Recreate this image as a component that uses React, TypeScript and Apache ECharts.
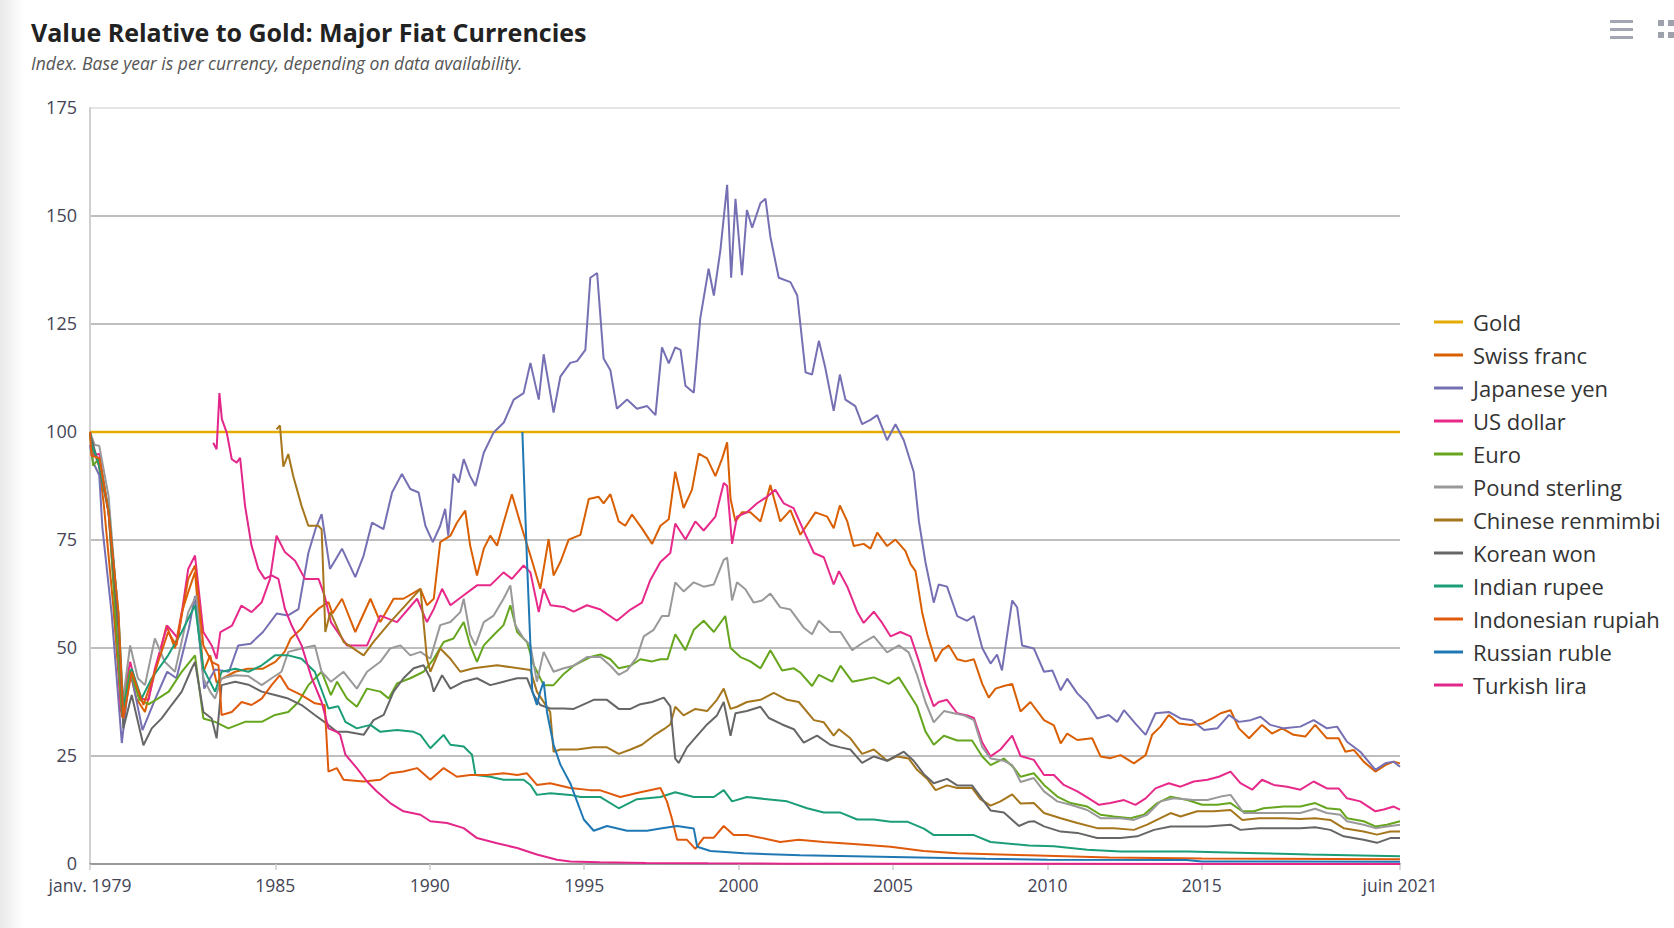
import React, { useEffect, useRef } from 'react';
import * as echarts from 'echarts';

const TITLE = 'Value Relative to Gold: Major Fiat Currencies';
const SUBTITLE = 'Index. Base year is per currency, depending on data availability.';

const X_MIN = 1979;
const X_MAX = 2021.4167;
const xLabelValues = [1979, 1985, 1990, 1995, 2000, 2005, 2010, 2015, 2021.4167];
const Y_MIN = 0;
const Y_MAX = 175;
const Y_STEP = 25;

const seriesNames = [
  'Gold', 'Swiss franc', 'Japanese yen', 'US dollar', 'Euro', 'Pound sterling',
  'Chinese renmimbi', 'Korean won', 'Indian rupee', 'Indonesian rupiah', 'Russian ruble', 'Turkish lira',
];
const seriesColors = [
  '#e6ab02', '#d95f02', '#7570b3', '#e7298a', '#66a61e', '#999999',
  '#a6761d', '#666666', '#1b9e77', '#e05a0c', '#1f78b4', '#e3268a',
];

type P = [number, number];

const gold: P[] = [[1979.0, 100], [2021.4167, 100]];

const swissFranc: P[] = [
  [1979.0, 100], [1979.1, 96], [1979.3, 92], [1979.45, 83], [1979.75, 60], [1980.03, 34], [1980.3, 44.5], [1980.5, 38.3],
  [1980.78, 35.2], [1981.16, 46], [1981.48, 55.2], [1981.75, 49.9], [1981.97, 58.3], [1982.18, 62.9], [1982.4, 67.6],
  [1982.67, 44.5], [1982.89, 48.3], [1983.1, 42], [1983.3, 43], [1983.7, 44.5], [1984.1, 45.2], [1984.6, 45.2], [1985.0, 46.8],
  [1985.3, 49.1], [1985.5, 52.2], [1985.85, 54.5], [1986.07, 56.8], [1986.4, 59.1], [1986.72, 60.6], [1986.85, 58],
  [1987.16, 61.4], [1987.59, 53.7], [1988.08, 61.4], [1988.4, 56], [1988.83, 61.4], [1989.15, 61.4], [1989.7, 63.7],
  [1989.91, 59.9], [1990.13, 61.4], [1990.34, 74.5], [1990.67, 76], [1990.88, 79], [1991.15, 81.8], [1991.31, 73.7],
  [1991.53, 66.8], [1991.75, 73], [1991.96, 76], [1992.18, 73.7], [1992.39, 79], [1992.66, 85.6], [1992.93, 79],
  [1993.26, 71.4], [1993.58, 63.7], [1993.85, 75.2], [1994.01, 66.8], [1994.23, 69.9], [1994.5, 75.1], [1994.88, 76.2],
  [1995.15, 84.5], [1995.47, 85], [1995.63, 83.5], [1995.85, 85.6], [1996.12, 79.3], [1996.33, 78.3], [1996.55, 80.9],
  [1996.87, 77.7], [1997.2, 74.1], [1997.47, 78.3], [1997.74, 79.8], [1997.95, 90.8], [1998.22, 82.4], [1998.49, 86.6],
  [1998.71, 95], [1998.98, 93.9], [1999.25, 89.8], [1999.47, 93.9], [1999.63, 97.6], [1999.74, 84.5], [1999.9, 79.3],
  [2000.11, 81.4], [2000.38, 81.4], [2000.71, 79.3], [2001.03, 87.7], [2001.35, 79.3], [2001.68, 81.9], [2002.0, 76.2],
  [2002.49, 81.4], [2002.87, 80.4], [2003.08, 77.7], [2003.28, 83], [2003.52, 79.3], [2003.73, 73.6], [2004.05, 74.1],
  [2004.27, 73], [2004.49, 76.7], [2004.81, 73.6], [2005.08, 75.1], [2005.4, 72.5], [2005.57, 69.4], [2005.73, 67.8],
  [2005.94, 58.4], [2006.11, 53.2], [2006.38, 46.9], [2006.59, 49.5], [2006.81, 50.6], [2007.08, 47.4], [2007.35, 46.9],
  [2007.62, 47.4], [2007.89, 41.7], [2008.1, 38.5], [2008.32, 40.6], [2008.59, 41.2], [2008.86, 41.7], [2009.13, 35.3],
  [2009.45, 37.5], [2009.89, 33.3], [2010.21, 32.1], [2010.43, 27.9], [2010.64, 30.2], [2010.97, 28.7], [2011.45, 29.1],
  [2011.72, 24.9], [2012.04, 24.5], [2012.37, 25.2], [2012.8, 23.3], [2013.18, 25.2], [2013.39, 29.9], [2013.66, 31.8],
  [2013.93, 34.5], [2014.26, 32.5], [2014.64, 32.2], [2015.01, 32.5], [2015.34, 33.7], [2015.61, 34.9], [2015.93, 35.6],
  [2016.2, 31.4], [2016.53, 29.1], [2016.95, 32.2], [2017.27, 30.2], [2017.6, 31.4], [2017.97, 29.9], [2018.35, 29.5],
  [2018.67, 32.2], [2019.05, 29.1], [2019.43, 29.1], [2019.65, 26], [2019.92, 26.4], [2020.24, 23.7], [2020.62, 21.4],
  [2020.94, 22.9], [2021.21, 23.7], [2021.4167, 23.3],
];

const japaneseYen: P[] = [
  [1979.0, 97], [1979.1, 93], [1979.3, 90], [1979.4, 78], [1979.7, 58], [1980.03, 28], [1980.3, 45], [1980.5, 38],
  [1980.7, 31], [1981.1, 38], [1981.5, 44.5], [1981.8, 43], [1982.2, 54.5], [1982.4, 62], [1982.7, 40.6], [1983.05, 45],
  [1983.5, 44.5], [1983.8, 50.6], [1984.2, 51], [1984.6, 53.7], [1985.05, 58], [1985.4, 57.5], [1985.75, 59], [1986.07, 72],
  [1986.3, 77.5], [1986.5, 81], [1986.77, 68.3], [1987.16, 73], [1987.59, 66.4], [1987.86, 71.4], [1988.13, 79],
  [1988.5, 77.5], [1988.78, 86], [1989.1, 90.3], [1989.37, 86.8], [1989.64, 86], [1989.86, 78.3], [1990.1, 74.5],
  [1990.34, 78.3], [1990.5, 82.2], [1990.6, 76], [1990.77, 90.3], [1990.94, 88.3], [1991.1, 93.7], [1991.3, 89.9],
  [1991.48, 87.5], [1991.75, 95.2], [1992.07, 99.9], [1992.4, 102.2], [1992.72, 107.5], [1993.04, 109], [1993.26, 116],
  [1993.53, 107.5], [1993.69, 118], [1994.01, 104.5], [1994.23, 112.8], [1994.55, 116], [1994.77, 116.4], [1995.04, 119],
  [1995.2, 135.7], [1995.42, 136.8], [1995.63, 117], [1995.85, 114.3], [1996.06, 105.4], [1996.39, 107.5], [1996.71, 105.4],
  [1997.04, 106], [1997.31, 103.9], [1997.52, 119.6], [1997.74, 115.9], [1997.95, 119.6], [1998.12, 119], [1998.28, 110.7],
  [1998.55, 109.1], [1998.76, 126.3], [1999.03, 137.8], [1999.2, 131.6], [1999.41, 142], [1999.63, 157.2], [1999.76, 135.7],
  [1999.9, 154], [2000.11, 136.3], [2000.27, 151.4], [2000.44, 147.3], [2000.71, 153], [2000.87, 154], [2001.03, 145.2],
  [2001.3, 135.7], [2001.68, 134.7], [2001.9, 131.6], [2002.17, 113.8], [2002.38, 113.3], [2002.6, 121.1], [2002.81, 114.8],
  [2003.08, 104.9], [2003.28, 113.3], [2003.46, 107.5], [2003.78, 106], [2004.0, 101.8], [2004.27, 102.8], [2004.49, 103.9],
  [2004.81, 98.1], [2005.08, 101.8], [2005.35, 98.1], [2005.67, 90.8], [2005.84, 79.3], [2006.05, 69.9], [2006.32, 60.5],
  [2006.48, 64.7], [2006.75, 64.2], [2007.08, 57.4], [2007.4, 56.3], [2007.62, 57.4], [2007.89, 50], [2008.16, 46.4],
  [2008.37, 48.5], [2008.53, 44.8], [2008.7, 53.2], [2008.86, 61], [2009.02, 59.4], [2009.18, 50.6], [2009.56, 49.9],
  [2009.89, 44.5], [2010.16, 44.8], [2010.43, 40.2], [2010.64, 42.9], [2010.97, 39.5], [2011.29, 37.2], [2011.61, 33.7],
  [2011.99, 34.5], [2012.26, 32.9], [2012.48, 35.6], [2012.85, 32.5], [2013.18, 29.9], [2013.5, 34.9], [2013.93, 35.2],
  [2014.31, 33.7], [2014.69, 33.3], [2015.07, 31], [2015.5, 31.4], [2015.88, 34.5], [2016.2, 32.9], [2016.58, 33.3],
  [2016.9, 34.1], [2017.22, 32.2], [2017.65, 31.4], [2018.19, 31.8], [2018.62, 33.3], [2019.05, 31.4], [2019.38, 31.8],
  [2019.7, 28.3], [2020.13, 26], [2020.62, 21.8], [2020.94, 23.3], [2021.21, 23.7], [2021.4167, 22.5],
];

const usDollar: P[] = [
  [1979.0, 100], [1979.1, 94.5], [1979.3, 95], [1979.6, 81.4], [1979.8, 62], [1980.0, 35.2], [1980.3, 46.8], [1980.6, 38.3],
  [1980.9, 38], [1981.1, 45.2], [1981.5, 55.2], [1981.85, 52.2], [1982.18, 68.3], [1982.4, 71.4], [1982.67, 53.7],
  [1982.94, 50.6], [1983.1, 47.5], [1983.22, 53.7], [1983.6, 55.2], [1983.9, 59.8], [1984.23, 58.3], [1984.56, 60.6],
  [1984.83, 66], [1985.04, 76], [1985.31, 72.2], [1985.64, 70.2], [1985.96, 66], [1986.4, 66], [1986.6, 62], [1986.8, 56],
  [1987.32, 50.6], [1987.97, 50.6], [1988.4, 57.5], [1988.94, 56], [1989.59, 61.4], [1989.91, 56], [1990.13, 59],
  [1990.4, 63.7], [1990.67, 59.9], [1991.1, 62.2], [1991.53, 64.5], [1991.96, 64.5], [1992.39, 67.5], [1992.66, 66],
  [1993.04, 69.1], [1993.26, 67.5], [1993.53, 58.3], [1993.69, 63.7], [1993.91, 59.9], [1994.34, 59.5], [1994.66, 58.4],
  [1995.09, 59.9], [1995.53, 58.9], [1996.06, 56.3], [1996.5, 58.9], [1996.87, 60.5], [1997.14, 65.7], [1997.47, 69.9],
  [1997.79, 72], [1997.95, 78.8], [1998.28, 75.1], [1998.6, 79.3], [1998.87, 77.2], [1999.25, 80.4], [1999.52, 88.2],
  [1999.63, 87.5], [1999.79, 74.1], [1999.95, 80.4], [2000.27, 81.4], [2000.6, 83.5], [2000.92, 85], [2001.19, 86.6],
  [2001.46, 83.5], [2001.78, 82.4], [2002.17, 76.2], [2002.44, 72], [2002.76, 71], [2003.08, 64.7], [2003.25, 67.8],
  [2003.52, 64.2], [2003.84, 58.4], [2004.05, 55.8], [2004.38, 58.4], [2004.65, 55.8], [2004.92, 52.7], [2005.24, 53.7],
  [2005.57, 52.7], [2005.84, 46.9], [2006.05, 41.7], [2006.32, 36.5], [2006.48, 37.5], [2006.75, 38], [2007.08, 34.9],
  [2007.4, 34.4], [2007.62, 33.8], [2007.89, 28.1], [2008.16, 24.9], [2008.48, 26.5], [2008.86, 29.7], [2009.13, 25],
  [2009.56, 24.1], [2009.89, 20.6], [2010.21, 20.6], [2010.53, 18.3], [2010.97, 16.8], [2011.34, 15.2], [2011.67, 13.7],
  [2012.04, 14.1], [2012.48, 14.8], [2012.85, 13.7], [2013.18, 15.2], [2013.5, 17.5], [2013.93, 18.7], [2014.31, 17.9],
  [2014.74, 19.1], [2015.18, 19.5], [2015.55, 20.2], [2015.93, 21.4], [2016.25, 18.7], [2016.63, 17.2], [2016.95, 19.5],
  [2017.33, 18.3], [2017.76, 17.9], [2018.19, 17.2], [2018.62, 19.1], [2019.05, 17.5], [2019.43, 17.5], [2019.7, 15.2],
  [2020.13, 14.5], [2020.62, 12.2], [2020.89, 12.6], [2021.21, 13.3], [2021.4167, 12.6],
];

const euro: P[] = [
  [1979.0, 100], [1979.1, 92.2], [1979.3, 94], [1979.6, 82], [1979.8, 60], [1980.03, 35], [1980.3, 45], [1980.6, 38],
  [1980.9, 37], [1981.2, 38.3], [1981.55, 39.9], [1981.97, 44.5], [1982.4, 48.3], [1982.67, 33.7], [1983.05, 32.9],
  [1983.48, 31.4], [1984.02, 32.9], [1984.56, 32.9], [1984.99, 34.5], [1985.42, 35.2], [1985.75, 37.5], [1986.07, 41.4],
  [1986.5, 44.5], [1986.8, 39.1], [1987.0, 42.2], [1987.32, 38.3], [1987.64, 36.4], [1987.97, 40.6], [1988.4, 39.9],
  [1988.67, 38.3], [1988.94, 41.8], [1989.37, 43], [1989.8, 44.5], [1990.13, 47.5], [1990.45, 51.4], [1990.77, 52.2],
  [1991.1, 56], [1991.31, 50.6], [1991.53, 46.8], [1991.75, 50.6], [1992.07, 53], [1992.39, 55.3], [1992.61, 59.9],
  [1992.83, 53.7], [1993.15, 51.4], [1993.37, 46], [1993.69, 41.4], [1994.01, 41.4], [1994.34, 44], [1994.66, 45.9],
  [1995.2, 47.9], [1995.53, 48.5], [1995.85, 47.4], [1996.12, 45.3], [1996.5, 45.9], [1996.82, 47.4], [1997.2, 46.9],
  [1997.47, 47.4], [1997.7, 47.4], [1997.95, 53.2], [1998.28, 49.5], [1998.55, 54.2], [1998.87, 56.3], [1999.2, 53.7],
  [1999.57, 57.4], [1999.74, 50], [2000.06, 47.9], [2000.38, 46.9], [2000.71, 45.3], [2001.03, 49.5], [2001.41, 44.8],
  [2001.79, 45.3], [2002.0, 44.3], [2002.38, 41.2], [2002.6, 43.8], [2003.03, 42.2], [2003.3, 45.9], [2003.68, 42.2],
  [2004.05, 42.7], [2004.38, 43.2], [2004.86, 41.7], [2005.19, 43.2], [2005.51, 39.6], [2005.78, 36.5], [2006.05, 30.7],
  [2006.32, 27.6], [2006.65, 29.7], [2007.08, 28.6], [2007.56, 28.6], [2007.89, 24.9], [2008.16, 22.9], [2008.59, 24.4],
  [2008.91, 22.3], [2009.13, 20.2], [2009.56, 21], [2009.89, 18.3], [2010.32, 15.6], [2010.75, 14.1], [2011.29, 13.3],
  [2011.72, 11.4], [2012.15, 11], [2012.69, 10.6], [2013.12, 11.4], [2013.56, 14.1], [2013.99, 15.6], [2014.53, 14.8],
  [2015.01, 13.7], [2015.5, 13.7], [2015.93, 14.1], [2016.31, 12.2], [2016.69, 12.2], [2017.0, 12.9], [2017.65, 13.3],
  [2018.19, 13.3], [2018.67, 14.1], [2019.05, 12.9], [2019.48, 12.6], [2019.7, 10.6], [2020.24, 9.9], [2020.62, 8.7],
  [2020.99, 9.1], [2021.4167, 9.9],
];

const poundSterling: P[] = [
  [1979.0, 100], [1979.15, 97], [1979.3, 96.8], [1979.6, 85.2], [1979.9, 58.3], [1980.05, 37], [1980.3, 50.6],
  [1980.55, 43], [1980.78, 41.4], [1981.1, 52.2], [1981.42, 46.8], [1981.75, 44.5], [1982.18, 58.3], [1982.45, 62.2],
  [1982.67, 43], [1982.89, 39.9], [1983.05, 38.3], [1983.26, 43], [1983.7, 43.7], [1984.13, 43.5], [1984.56, 41.4],
  [1984.88, 43], [1985.2, 44.5], [1985.42, 49.1], [1985.85, 49.9], [1986.28, 50.6], [1986.5, 44.5], [1986.8, 42.2],
  [1987.21, 44.5], [1987.64, 40.6], [1987.97, 44.5], [1988.4, 46.8], [1988.72, 49.9], [1989.05, 50.6], [1989.37, 48.3],
  [1989.7, 49.1], [1990.02, 47.5], [1990.34, 55.3], [1990.67, 56], [1990.99, 58.3], [1991.1, 61.4], [1991.31, 53],
  [1991.48, 50.6], [1991.75, 56], [1992.07, 57.5], [1992.39, 61.4], [1992.61, 64.5], [1992.77, 55.3], [1993.04, 52.2],
  [1993.26, 50.6], [1993.47, 42.2], [1993.69, 49.1], [1994.01, 44.5], [1994.34, 45.3], [1994.66, 45.9], [1995.09, 47.9],
  [1995.53, 47.9], [1995.85, 45.9], [1996.12, 43.8], [1996.39, 44.8], [1996.71, 47.9], [1996.93, 52.7], [1997.25, 54.2],
  [1997.52, 57.4], [1997.74, 57.4], [1997.95, 65.2], [1998.22, 63.1], [1998.55, 65.2], [1998.87, 64.2], [1999.2, 64.7],
  [1999.52, 70.4], [1999.63, 70.9], [1999.79, 61], [1999.95, 65.2], [2000.22, 63.6], [2000.49, 60.5], [2000.76, 61],
  [2001.03, 62.6], [2001.35, 59.4], [2001.68, 58.9], [2002.11, 54.7], [2002.38, 53.2], [2002.6, 56.3], [2002.97, 53.7],
  [2003.3, 53.7], [2003.68, 49.5], [2004.0, 51.1], [2004.38, 52.7], [2004.81, 49], [2005.19, 50.6], [2005.51, 49],
  [2005.78, 43.8], [2006.05, 37.5], [2006.32, 32.8], [2006.65, 35.4], [2006.97, 34.9], [2007.3, 34.4], [2007.62, 33.3],
  [2007.89, 27.1], [2008.16, 24.4], [2008.59, 23.9], [2008.86, 22.9], [2009.13, 19], [2009.56, 19.9], [2009.89, 16.8],
  [2010.32, 14.5], [2010.75, 13.7], [2011.29, 12.5], [2011.72, 10.6], [2012.37, 10.6], [2012.8, 10.2], [2013.23, 11.4],
  [2013.66, 14.5], [2014.09, 15.2], [2014.74, 14.8], [2015.18, 14.8], [2015.61, 15.6], [2015.93, 16], [2016.36, 11.8],
  [2016.85, 11.8], [2017.65, 11.8], [2018.19, 11.8], [2018.67, 12.8], [2019.05, 11.8], [2019.48, 11.4], [2019.7, 9.9],
  [2020.24, 9.1], [2020.62, 8.3], [2020.99, 8.7], [2021.4167, 9.1],
];

const chineseRenminbi: P[] = [
  [1985.04, 100.6], [1985.15, 101.5], [1985.26, 92], [1985.42, 94.9], [1985.58, 89.8], [1985.85, 82.9], [1986.07, 78.3],
  [1986.39, 78.3], [1986.5, 77.5], [1986.62, 53.7], [1986.78, 58.3], [1987.21, 51.4], [1987.86, 48.3], [1988.18, 51.4],
  [1988.72, 56], [1989.7, 63.7], [1989.91, 47.5], [1990.02, 44.5], [1990.34, 49.9], [1990.67, 47.5], [1990.99, 44.5],
  [1991.42, 45.3], [1992.18, 46], [1993.26, 44.9], [1993.47, 39.9], [1993.9, 35.2], [1994.01, 26], [1994.23, 26.5],
  [1994.77, 26.5], [1995.31, 27], [1995.74, 27], [1996.12, 25.5], [1996.5, 26.5], [1996.87, 27.6], [1997.25, 29.7],
  [1997.58, 31.2], [1997.79, 32.3], [1997.95, 36.4], [1998.22, 34.4], [1998.6, 35.9], [1998.98, 35.4], [1999.3, 38],
  [1999.52, 40.6], [1999.74, 35.9], [1999.95, 36.4], [2000.27, 37.5], [2000.71, 38], [2001.14, 39.6], [2001.57, 38],
  [2001.95, 37.5], [2002.44, 33.3], [2002.76, 32.8], [2003.08, 29.7], [2003.25, 31.2], [2003.62, 29.1], [2004.0, 25.5],
  [2004.38, 26.5], [2004.81, 23.9], [2005.13, 24.9], [2005.51, 24.4], [2005.78, 21.8], [2006.11, 19.7], [2006.38, 17.1],
  [2006.75, 18.2], [2007.08, 17.6], [2007.56, 17.6], [2007.83, 15], [2008.16, 13.5], [2008.48, 14.5], [2008.86, 16.1],
  [2009.13, 14], [2009.56, 14.1], [2009.89, 11.8], [2010.43, 10.6], [2010.97, 9.5], [2011.61, 8.3], [2012.15, 8.3],
  [2012.8, 7.9], [2013.23, 9.1], [2013.66, 10.6], [2013.99, 11.8], [2014.31, 11], [2014.85, 12.2], [2015.39, 12.2],
  [2015.93, 12.5], [2016.31, 10.2], [2016.85, 10.6], [2017.65, 10.6], [2018.19, 10.4], [2018.67, 10.6], [2019.16, 10.2],
  [2019.59, 8.3], [2020.24, 7.5], [2020.67, 6.8], [2021.1, 7.5], [2021.4167, 7.5],
];

const koreanWon: P[] = [
  [1979.0, 100], [1979.05, 98.3], [1979.27, 92.9], [1979.6, 81.4], [1979.92, 54.5], [1980.08, 31.4], [1980.35, 39.1],
  [1980.73, 27.5], [1981.0, 31.4], [1981.32, 33.7], [1981.64, 36.8], [1981.97, 39.9], [1982.29, 45.2], [1982.4, 46.8],
  [1982.67, 35.2], [1982.94, 33.7], [1983.1, 29.1], [1983.26, 41.4], [1983.7, 42.2], [1984.13, 41.5], [1984.56, 39.9],
  [1984.99, 39.1], [1985.42, 38.3], [1985.85, 36.8], [1986.28, 34.5], [1986.72, 32.2], [1986.99, 30.6], [1987.32, 30.6],
  [1987.86, 29.9], [1988.18, 33.3], [1988.51, 34.5], [1988.83, 39.9], [1989.15, 43], [1989.48, 45.3], [1989.8, 46],
  [1990.02, 43], [1990.13, 39.9], [1990.4, 43.7], [1990.67, 40.6], [1991.1, 42.2], [1991.53, 43], [1991.96, 41.4],
  [1992.39, 42.2], [1992.83, 43], [1993.15, 43], [1993.37, 39.1], [1993.58, 36.8], [1993.9, 36], [1994.34, 36],
  [1994.66, 35.9], [1995.31, 38], [1995.74, 38], [1996.12, 35.9], [1996.5, 35.9], [1996.82, 37], [1997.2, 37.5],
  [1997.58, 38.5], [1997.79, 36.5], [1997.95, 24.4], [1998.06, 23.4], [1998.33, 27], [1998.66, 29.7], [1998.98, 32.3],
  [1999.3, 34.4], [1999.52, 37.5], [1999.74, 29.7], [1999.9, 34.9], [2000.27, 35.4], [2000.71, 36.4], [2000.98, 33.8],
  [2001.41, 32.3], [2001.79, 31.2], [2002.11, 28.1], [2002.54, 29.7], [2002.97, 27.6], [2003.3, 27], [2003.62, 26.5],
  [2004.0, 23.4], [2004.38, 24.9], [2004.81, 23.9], [2005.35, 26], [2005.67, 23.9], [2006.0, 20.8], [2006.32, 18.7],
  [2006.75, 19.7], [2007.08, 18.2], [2007.56, 18.2], [2007.89, 15], [2008.16, 12.4], [2008.59, 11.9], [2009.08, 8.8],
  [2009.4, 9.8], [2009.56, 9.9], [2009.89, 8.7], [2010.43, 7.5], [2010.97, 7.2], [2011.61, 6], [2012.37, 6], [2012.91, 6.4],
  [2013.45, 7.9], [2013.99, 8.7], [2014.53, 8.7], [2015.18, 8.7], [2015.93, 9.1], [2016.25, 7.9], [2016.85, 8.3],
  [2017.65, 8.3], [2018.19, 8.3], [2018.67, 8.5], [2019.16, 7.9], [2019.59, 6.4], [2020.24, 5.6], [2020.67, 4.9],
  [2021.1, 6], [2021.4167, 6],
];

const indianRupee: P[] = [
  [1979.0, 100], [1979.05, 97], [1979.27, 93], [1979.6, 82], [1979.92, 58], [1980.08, 36], [1980.35, 45.2], [1980.67, 38.3],
  [1981.0, 43], [1981.53, 48.3], [1981.97, 53.7], [1982.4, 59.9], [1982.67, 45.2], [1983.05, 39.9], [1983.26, 44.5],
  [1983.7, 45.2], [1984.13, 44.5], [1984.56, 46], [1984.99, 48.3], [1985.42, 48.3], [1985.85, 47.5], [1986.28, 44.5],
  [1986.72, 36], [1987.04, 36.5], [1987.27, 32.9], [1987.64, 31.4], [1988.08, 32.2], [1988.4, 30.6], [1988.94, 31],
  [1989.48, 30.6], [1989.7, 29.9], [1990.02, 26.8], [1990.45, 29.9], [1990.67, 27.6], [1991.1, 27.2], [1991.37, 25.3],
  [1991.48, 20.6], [1991.96, 20.2], [1992.39, 19.5], [1993.04, 19.5], [1993.26, 18.3], [1993.47, 16], [1993.91, 16.4],
  [1994.55, 16], [1994.88, 15.5], [1995.53, 15.5], [1996.12, 12.9], [1996.71, 15], [1997.47, 15.5], [1997.95, 16.6],
  [1998.55, 15.5], [1999.2, 15.5], [1999.52, 17.1], [1999.79, 14.5], [2000.27, 15.5], [2000.92, 15], [2001.57, 14.5],
  [2002.22, 12.9], [2002.76, 11.9], [2003.3, 11.9], [2003.84, 10.3], [2004.38, 10.3], [2004.92, 9.8], [2005.46, 9.8],
  [2006.0, 8.2], [2006.32, 6.7], [2007.08, 6.7], [2007.62, 6.7], [2008.16, 5.1], [2009.4, 4.3], [2010.21, 4.1],
  [2011.29, 3.3], [2012.37, 2.9], [2014.53, 2.9], [2016.85, 2.5], [2018.5, 2.2], [2021.4167, 1.8],
];

const indonesianRupiah: P[] = [
  [1979.0, 100], [1979.05, 94.5], [1979.3, 94], [1979.6, 81.4], [1979.92, 58.3], [1980.08, 33.7], [1980.35, 44.5],
  [1980.73, 36.8], [1981.1, 44.5], [1981.53, 53.7], [1981.8, 50.6], [1982.18, 66], [1982.4, 69.1], [1982.67, 50.6],
  [1982.94, 46.8], [1983.16, 46], [1983.26, 34.5], [1983.59, 35.2], [1983.91, 37.5], [1984.23, 36.8], [1984.56, 38.3],
  [1984.88, 41.4], [1985.15, 43.7], [1985.42, 40.6], [1985.85, 39.1], [1986.28, 37.2], [1986.6, 36.8], [1986.72, 21.4],
  [1986.99, 22.2], [1987.21, 19.5], [1987.86, 19.1], [1988.4, 19.5], [1988.72, 21], [1989.15, 21.4], [1989.59, 22.2],
  [1990.02, 19.5], [1990.45, 22.2], [1990.88, 20.2], [1991.31, 20.6], [1991.85, 20.6], [1992.39, 21], [1992.83, 20.6],
  [1993.15, 21], [1993.47, 18.3], [1993.9, 18.7], [1994.55, 17.6], [1995.2, 17.1], [1995.5, 17.1], [1996.17, 15.5],
  [1996.82, 16.6], [1997.47, 17.6], [1997.68, 14.5], [1997.85, 10.3], [1998.01, 5.6], [1998.33, 5.6], [1998.6, 3.5],
  [1998.87, 6.1], [1999.2, 6.1], [1999.52, 8.8], [1999.84, 6.7], [2000.27, 6.7], [2000.71, 6.1], [2001.35, 5.1],
  [2001.95, 5.6], [2002.76, 5.1], [2003.84, 4.6], [2004.92, 4.0], [2005.99, 3.0], [2007.08, 2.5], [2009.4, 2.0],
  [2012.0, 1.5], [2015.0, 1.3], [2021.4167, 1.1],
];

const russianRuble: P[] = [
  [1993.0, 100], [1993.15, 70], [1993.32, 40], [1993.47, 36.8], [1993.58, 39.9], [1993.69, 42.2], [1993.8, 35],
  [1994.01, 27.6], [1994.23, 23], [1994.55, 18.7], [1994.77, 14.5], [1994.99, 10.3], [1995.31, 7.7], [1995.74, 8.8],
  [1996.39, 7.7], [1997.04, 7.7], [1997.47, 8.2], [1998.01, 8.8], [1998.55, 8.2], [1998.66, 4], [1999.09, 3],
  [2000.17, 2.5], [2002.0, 2.0], [2005.0, 1.6], [2008.0, 1.2], [2010.0, 1.0], [2014.5, 0.9], [2015.0, 0.6],
  [2021.4167, 0.5],
];

const turkishLira: P[] = [
  [1982.99, 97.5], [1983.1, 96], [1983.19, 109], [1983.27, 103], [1983.43, 99.8], [1983.59, 93.7], [1983.75, 92.9],
  [1983.86, 94], [1984.02, 82.9], [1984.23, 73.7], [1984.45, 68.3], [1984.66, 66], [1984.88, 66.8], [1985.1, 66],
  [1985.31, 59.1], [1985.53, 55.2], [1985.85, 50.6], [1986.18, 43], [1986.5, 37.5], [1986.72, 31.4], [1986.99, 30.6],
  [1987.1, 29.9], [1987.27, 25.3], [1987.64, 22.2], [1987.97, 19.1], [1988.29, 16.8], [1988.72, 14.1], [1989.15, 12.2],
  [1989.7, 11.4], [1990.02, 9.9], [1990.56, 9.5], [1991.1, 8.3], [1991.53, 6], [1992.18, 4.8], [1992.83, 3.7],
  [1993.47, 2.2], [1994.12, 1.0], [1994.55, 0.6], [1995.5, 0.4], [1997.0, 0.25], [1999.0, 0.15], [2001.5, 0.08],
  [2005.0, 0.05], [2021.4167, 0.02],
];

const seriesData: P[][] = [
  gold, swissFranc, japaneseYen, usDollar, euro, poundSterling,
  chineseRenminbi, koreanWon, indianRupee, indonesianRupiah, russianRuble, turkishLira,
];

const FONT = '"Open Sans", Lato, sans-serif';

function xLabel(v: number): string {
  if (v <= 1979.01) return 'janv. 1979';
  if (v >= 2021.3) return 'juin 2021';
  return String(Math.round(v));
}

export default function App() {
  const ref = useRef<HTMLDivElement>(null);

  useEffect(() => {
    if (!ref.current) return;
    const chart = echarts.init(ref.current, undefined, { renderer: 'svg' });
    const option: any = {
      animation: false,
      backgroundColor: '#ffffff',
      title: {
        text: TITLE,
        subtext: SUBTITLE,
        left: 26,
        top: 14,
        itemGap: 10,
        textStyle: { fontFamily: FONT, fontSize: 25, fontWeight: 'bold', color: '#222222' },
        subtextStyle: { fontFamily: FONT, fontSize: 17.5, fontStyle: 'italic', color: '#555555' },
      },
      legend: {
        orient: 'vertical',
        left: 1429,
        top: 306,
        itemWidth: 29,
        itemHeight: 3,
        itemGap: 11,
        icon: 'rect',
        data: seriesNames,
        textStyle: { fontFamily: FONT, fontSize: 22, color: '#333333', lineHeight: 21, padding: [0, 0, 0, 5] },
      },
      grid: { left: 90, right: 274, top: 108, bottom: 64, containLabel: false },
      xAxis: {
        type: 'value',
        min: X_MIN,
        max: X_MAX,
        splitLine: { show: false },
        axisLine: { show: true, lineStyle: { color: '#999999', width: 2 } },
        axisTick: { show: true, customValues: xLabelValues, length: 6, lineStyle: { color: '#cccccc', width: 1.5 } },
        axisLabel: {
          customValues: xLabelValues,
          formatter: xLabel,
          fontFamily: FONT,
          fontSize: 17.5,
          color: '#444455',
          margin: 12,
          hideOverlap: false,
        },
      },
      yAxis: {
        type: 'value',
        min: Y_MIN,
        max: Y_MAX,
        interval: Y_STEP,
        axisLine: { show: true, lineStyle: { color: '#d0d0d0', width: 2 } },
        axisTick: { show: false },
        axisLabel: { fontFamily: FONT, fontSize: 18, color: '#444455', margin: 13, verticalAlign: 'bottom', lineHeight: 18, padding: [0, 0, -8, 0] },
        splitLine: {
          show: true,
          lineStyle: {
            color: ['#999999', '#a8a8a8', '#a8a8a8', '#a8a8a8', '#a8a8a8', '#a8a8a8', '#a8a8a8', '#dddddd'],
            width: 1.5,
          },
        },
      },
      graphic: [
        {
          type: 'rect',
          left: 0,
          top: 0,
          shape: { width: 24, height: 928 },
          style: {
            fill: new echarts.graphic.LinearGradient(0, 0, 1, 0, [
              { offset: 0, color: '#e9e9e9' },
              { offset: 1, color: '#ffffff' },
            ]),
          },
          silent: true,
        },
        { type: 'rect', shape: { x: 1610, y: 20, width: 23, height: 3 }, style: { fill: '#a3a7b1' } },
        { type: 'rect', shape: { x: 1610, y: 28, width: 23, height: 3 }, style: { fill: '#a3a7b1' } },
        { type: 'rect', shape: { x: 1610, y: 36, width: 23, height: 3 }, style: { fill: '#a3a7b1' } },
        { type: 'rect', shape: { x: 1658, y: 20, width: 6, height: 6 }, style: { fill: '#9ea2ad' } },
        { type: 'rect', shape: { x: 1668, y: 20, width: 6, height: 6 }, style: { fill: '#9ea2ad' } },
        { type: 'rect', shape: { x: 1658, y: 32, width: 6, height: 6 }, style: { fill: '#9ea2ad' } },
        { type: 'rect', shape: { x: 1668, y: 32, width: 6, height: 6 }, style: { fill: '#9ea2ad' } },
      ],
      series: seriesNames.map((name, i) => ({
        name,
        type: 'line',
        data: seriesData[i],
        showSymbol: false,
        symbol: 'none',
        color: seriesColors[i],
        lineStyle: { width: i === 0 ? 2.5 : 2, color: seriesColors[i] },
        emphasis: { disabled: true },
      })),
    };
    chart.setOption(option);
    return () => chart.dispose();
  }, []);

  return (
    <div
      ref={ref}
      style={{ position: 'fixed', left: 0, top: 0, width: 1674, height: 928, background: '#ffffff' }}
    />
  );
}
